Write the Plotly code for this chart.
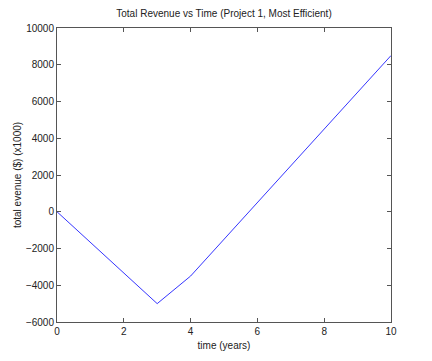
import plotly.graph_objects as go

time_years = [0, 3, 4, 10]
revenue_k = [0, -5000, -3500, 8500]
x_ticks = [0, 2, 4, 6, 8, 10]
y_ticks = [-6000, -4000, -2000, 0, 2000, 4000, 6000, 8000, 10000]
y_tick_labels = [str(v).replace("-", "\u2212") for v in y_ticks]

fig = go.Figure()
fig.add_trace(go.Scatter(x=time_years, y=revenue_k, mode="lines",
                         line=dict(color="#0000ff", width=0.8), showlegend=False))

axis_common = dict(showgrid=False, zeroline=False, showline=True, linecolor="#555555",
                   linewidth=1, mirror="ticks", ticks="inside", ticklen=4, automargin=False,
                   tickcolor="#555555", tickfont=dict(size=10, color="#222222"))
fig.update_xaxes(range=[0, 10], tickvals=x_ticks,
                 title=dict(text="time (years)", font=dict(size=10, color="#222222"), standoff=5),
                 **axis_common)
fig.update_yaxes(range=[-6000, 10000], tickvals=y_ticks, ticktext=y_tick_labels,
                 title=dict(text="total evenue ($) (x1000)", font=dict(size=10, color="#222222"), standoff=2),
                 **axis_common)
fig.update_layout(
    width=432, height=361,
    margin=dict(l=49, r=49, t=20, b=47, autoexpand=False),
    paper_bgcolor="white", plot_bgcolor="white",
    font=dict(family="Liberation Sans, Arial, sans-serif", size=10, color="#222222"),
    title=dict(text="Total Revenue vs Time (Project 1, Most Efficient)", x=(49 + 334 / 2) / 432,
               xanchor="center", y=0.986, yanchor="middle", font=dict(size=10, color="#222222")),
)
fig.write_html("out.html")
